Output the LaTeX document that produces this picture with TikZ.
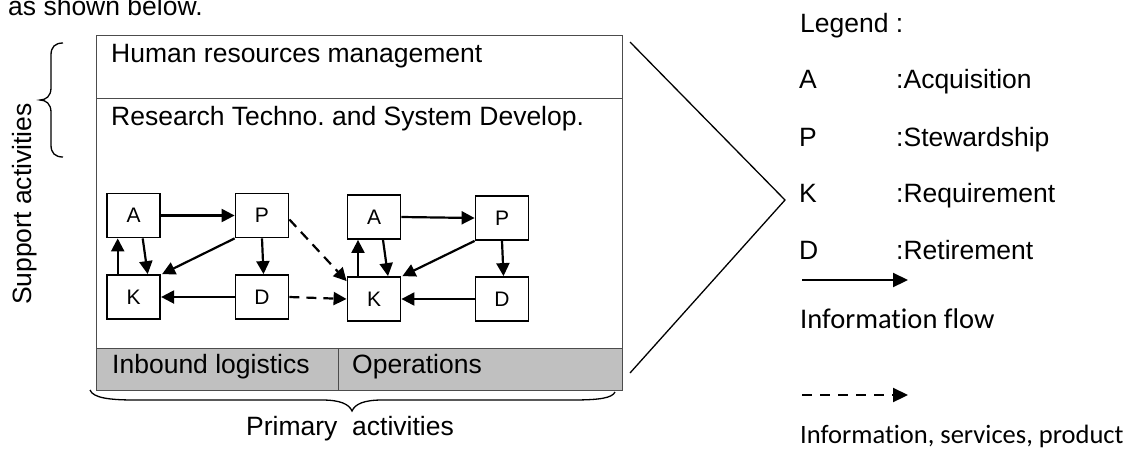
\documentclass[tikz,border=0pt]{standalone}
\usepackage{fontspec}
\setmainfont{Liberation Sans}
\newfontfamily\calib[Ligatures=NoCommon]{Carlito}
\usetikzlibrary{arrows.meta,calc}
\definecolor{band}{RGB}{192,192,192}
\frenchspacing
\tikzset{
  big/.style={font=\fontsize{26.5}{30}\selectfont, inner sep=0pt, anchor=base west},
  calA/.style={font=\calib\fontsize{28.5}{33}\selectfont, inner sep=0pt, anchor=base west},
  calB/.style={font=\calib\fontsize{26.5}{30}\selectfont, inner sep=0pt, anchor=base west},
  lbox/.style={draw=black, line width=1.8pt, minimum width=53pt, minimum height=44pt, inner sep=0pt, font=\fontsize{21}{24}\selectfont},
  flow/.style={line width=2.2pt, -{Triangle[length=13pt,width=13pt]}},
  svc/.style={flow, dash pattern=on 10pt off 7pt},
  lflow/.style={line width=2.2pt, -{Triangle[length=15pt,width=14pt]}},
  lsvc/.style={lflow, dash pattern=on 10pt off 8pt},
  region/.style={draw=black!70, line width=1.3pt, inner sep=0pt, anchor=north west},
  thinline/.style={line width=1.3pt, black},
}
\begin{document}
\begin{tikzpicture}[x=1pt, y=-1pt]
\useasboundingbox (0,0) rectangle (1138,448);
\clip (0,0) rectangle (1138,448);

% top cut text
\node[big] (intro) at (8,15) {as shown below.};

% value-chain box
\node[region, minimum width=526pt, minimum height=63pt] (hr) at (96,35) {};
\node[region, minimum width=526pt, minimum height=250pt] (rd) at (96,98) {};
\node[region, fill=band, minimum width=242pt, minimum height=42pt] (inb) at (96,348) {};
\node[region, fill=band, minimum width=284pt, minimum height=42pt] (ops) at (338,348) {};

\node[big] (hrt) at (111,62) {Human resources management};
\node[big] (rdt) at (111,125) {Research Techno. and System Develop.};
\node[big] (inbt) at (112,373) {Inbound logistics};
\node[big] (opst) at (352,373) {Operations};

% inner boxes
\node[lbox] (A1) at (133.7,215.5) {A};
\node[lbox] (P1) at (262,215.5) {P};
\node[lbox] (K1) at (133.7,297) {K};
\node[lbox] (D1) at (262,297) {D};
\node[lbox] (A2) at (374,217) {A};
\node[lbox] (P2) at (502,218) {P};
\node[lbox] (K2) at (374,299) {K};
\node[lbox] (D2) at (502,299) {D};

% arrows group 1
\draw[flow] (A1.east) -- (P1.west);
\draw[flow] ([xshift=9pt]A1.south) -- ([xshift=14pt]K1.north);
\draw[flow] ([xshift=-16pt]K1.north) -- ([xshift=-16pt]A1.south);
\draw[flow] (P1.south west) -- ([xshift=1pt]K1.north east);
\draw[flow] (P1.south) -- ([xshift=1.5pt]D1.north);
\draw[flow] (D1.west) -- (K1.east);
% arrows group 2
\draw[flow] (A2.east) -- (P2.west);
\draw[flow] ([xshift=9pt]A2.south) -- ([xshift=14pt]K2.north);
\draw[flow] ([xshift=-16pt]K2.north) -- ([xshift=-16pt]A2.south);
\draw[flow] (P2.south west) -- ([xshift=1pt]K2.north east);
\draw[flow] (P2.south) -- ([xshift=1.5pt]D2.north);
\draw[flow] (D2.west) -- (K2.east);
% dashed between groups
\draw[svc] ([yshift=-4pt]P1.east) -- ([yshift=-5pt]K2.north west);
\draw[svc] (D1.east) -- (K2.west);

% support brace
\draw[thinline] (63,43) .. controls (55,43) and (51,47) .. (51,55) -- (51,88)
  .. controls (51,96) and (46,100) .. (40,100)
  .. controls (46,100) and (51,104) .. (51,112) -- (51,145)
  .. controls (51,153) and (55,157) .. (63,157);
\node[font=\fontsize{26.5}{30}\selectfont, inner sep=0pt, anchor=base, rotate=90] (sup) at (31.5,204) {Support activities};

% primary brace
\draw[thinline] (90,390) .. controls (93,398) and (110,400) .. (135,400) -- (322,400)
  .. controls (340,400) and (349,404) .. (352,411)
  .. controls (355,404) and (364,400) .. (382,400) -- (572,400)
  .. controls (600,400) and (612,398) .. (615,392);
\node[font=\fontsize{26.5}{30}\selectfont, inner sep=0pt, anchor=base] (prim) at (350,435) {Primary\ \ activities};

% zoom wedge
\coordinate (w1) at (630,42);
\coordinate (w2) at (785,200);
\coordinate (w3) at (630,373);
\draw[thinline] (w1) -- (w2) -- (w3);

% legend
\node[big] (leg) at (800,32) {Legend :};
\node[big] (lA) at (799,88) {A};
\node[big] (lAt) at (896,88) {:Acquisition};
\node[big] (lP) at (799,146) {P};
\node[big] (lPt) at (896,146) {:Stewardship};
\node[big] (lK) at (799,202) {K};
\node[big] (lKt) at (896,202) {:Requirement};
\node[big] (lD) at (799,259) {D};
\node[big] (lDt) at (896,259) {:Retirement};
\coordinate (s1) at (802,280);
\coordinate (s2) at (908,280);
\draw[lflow] (s1) -- (s2);
\node[calA] (lif) at (800,328) {Information flow};
\coordinate (d1) at (802,395);
\coordinate (d2) at (908,395);
\draw[lsvc] (d1) -- (d2);
\node[calB] (lisp) at (800,443) {Information, services, product};
\end{tikzpicture}
\end{document}
